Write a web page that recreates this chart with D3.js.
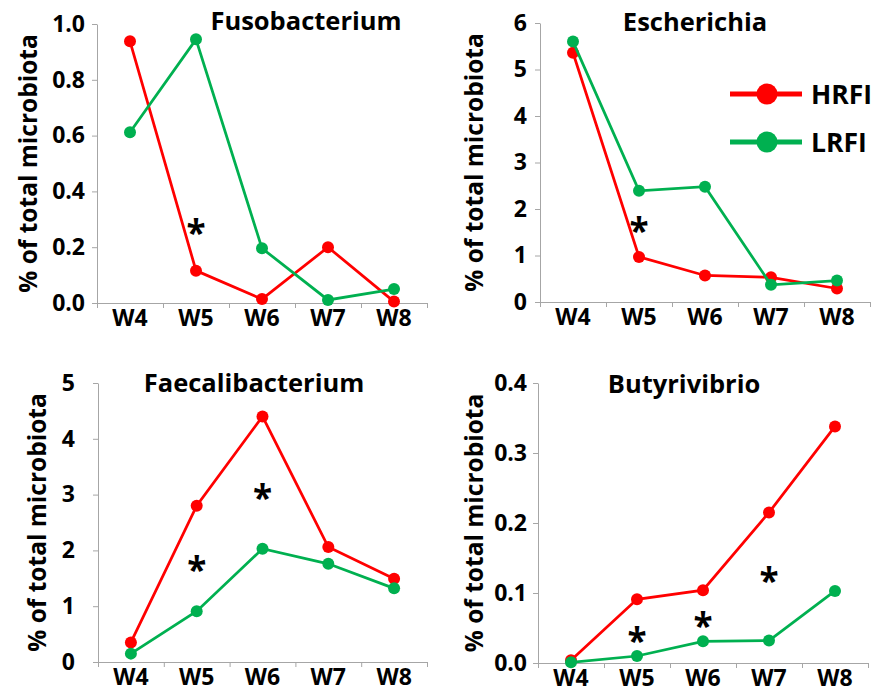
<!DOCTYPE html>
<html>
<head>
<meta charset="utf-8">
<script src="https://cdn.jsdelivr.net/npm/d3@7"></script>
<style>
  body { margin: 0; background: #fff; }
  svg { display: block; font-family: "Open Sans", Lato, sans-serif; font-weight: 700; }
</style>
</head>
<body>
<div id="chart"></div>
<script>
// weeks and groups
const weeks = ['W4', 'W5', 'W6', 'W7', 'W8'];
const groups = ['HRFI', 'LRFI'];

// % of total microbiota
const fusoHRFI = [0.938, 0.116, 0.014, 0.200, 0.005];
const fusoLRFI = [0.612, 0.945, 0.196, 0.011, 0.050];
const escHRFI = [5.36, 0.97, 0.57, 0.53, 0.29];
const escLRFI = [5.60, 2.39, 2.48, 0.37, 0.46];
const faeHRFI = [0.35, 2.80, 4.40, 2.06, 1.49];
const faeLRFI = [0.15, 0.91, 2.03, 1.76, 1.32];
const butHRFI = [0.004, 0.091, 0.104, 0.215, 0.338];
const butLRFI = [0.001, 0.010, 0.031, 0.032, 0.103];

// significance stars: week + height on the y scale
const fusoStars = [{ week: 'W5', y: 0.28 }];
const escStars = [{ week: 'W5', y: 1.7 }];
const faeStars = [{ week: 'W5', y: 1.79 }, { week: 'W6', y: 3.08 }];
const butStars = [{ week: 'W5', y: 0.043 }, { week: 'W6', y: 0.065 }, { week: 'W7', y: 0.128 }];

// y ticks
const fusoTicks = [0, 0.2, 0.4, 0.6, 0.8, 1.0];
const escTicks = [0, 1, 2, 3, 4, 5, 6];
const faeTicks = [0, 1, 2, 3, 4, 5];
const butTicks = [0, 0.1, 0.2, 0.3, 0.4];

const colors = { HRFI: '#ff0000', LRFI: '#00b050' };

const panels = [
  { title: 'Fusobacterium', data: [fusoHRFI, fusoLRFI], stars: fusoStars, ticks: fusoTicks, fmt: '.1f',
    left: 97, right: 427, top: 24, bottom: 303, labelX: 37, pad: 7, titleX: 306, titleY: 30 },
  { title: 'Escherichia', data: [escHRFI, escLRFI], stars: escStars, ticks: escTicks, fmt: 'd',
    left: 540, right: 870, top: 23, bottom: 302, labelX: 483, pad: 8, titleX: 695, titleY: 31 },
  { title: 'Faecalibacterium', data: [faeHRFI, faeLRFI], stars: faeStars, ticks: faeTicks, fmt: 'd',
    left: 98, right: 427, top: 383, bottom: 662, labelX: 46, pad: 18, titleX: 254, titleY: 392 },
  { title: 'Butyrivibrio', data: [butHRFI, butLRFI], stars: butStars, ticks: butTicks, fmt: '.1f',
    left: 538, right: 868, top: 383, bottom: 663, labelX: 483, pad: 6, titleX: 684, titleY: 393 },
];

const svg = d3.select('#chart').append('svg')
  .attr('width', 875)
  .attr('height', 692);

const axisColor = '#a6a6a6';
const fontFam = '"Open Sans", Lato, sans-serif';

panels.forEach(p => {
  const g = svg.append('g');

  const x = d3.scaleBand().domain(weeks).range([p.left, p.right]);
  const y = d3.scaleLinear()
    .domain([p.ticks[0], p.ticks[p.ticks.length - 1]])
    .range([p.bottom, p.top]);

  // y axis
  const yAxis = g.append('g')
    .attr('transform', `translate(${p.left},0)`)
    .call(d3.axisLeft(y).tickValues(p.ticks).tickFormat(d3.format(p.fmt))
      .tickSize(5).tickSizeOuter(0).tickPadding(p.pad));
  yAxis.select('.domain').attr('stroke', axisColor);
  yAxis.selectAll('.tick line').attr('stroke', axisColor);
  yAxis.selectAll('.tick text')
    .attr('fill', '#000')
    .style('font-size', '23px')
    .style('font-family', fontFam)
    .style('font-weight', 700);

  // x axis: boundary ticks + week labels
  const bounds = d3.scaleLinear().domain([0, weeks.length]).range([p.left, p.right]);
  const xTicks = g.append('g')
    .attr('transform', `translate(0,${p.bottom})`)
    .call(d3.axisBottom(bounds).ticks(weeks.length).tickFormat('').tickSize(5).tickSizeOuter(0));
  xTicks.select('.domain').attr('stroke', axisColor);
  xTicks.selectAll('.tick line').attr('stroke', axisColor);

  const xAxis = g.append('g')
    .attr('transform', `translate(0,${p.bottom})`)
    .call(d3.axisBottom(x).tickSize(0).tickPadding(7));
  xAxis.select('.domain').remove();
  xAxis.selectAll('.tick text')
    .attr('fill', '#000')
    .style('font-size', '23px')
    .style('font-family', fontFam)
    .style('font-weight', 700);

  // y label
  g.append('text')
    .attr('transform', `translate(${p.labelX},${(p.top + p.bottom) / 2}) rotate(-90)`)
    .attr('text-anchor', 'middle')
    .style('font-size', '24.5px')
    .text('% of total microbiota');

  // title
  g.append('text')
    .attr('x', p.titleX)
    .attr('y', p.titleY)
    .attr('text-anchor', 'middle')
    .style('font-size', '25.5px')
    .text(p.title);

  // lines + markers
  const line = d3.line()
    .x((d, i) => x(weeks[i]) + x.bandwidth() / 2)
    .y(d => y(d));

  groups.forEach((grp, k) => {
    const vals = p.data[k];
    g.append('path')
      .datum(vals)
      .attr('fill', 'none')
      .attr('stroke', colors[grp])
      .attr('stroke-width', 2.75)
      .attr('d', line);
    g.selectAll(null)
      .data(vals)
      .enter().append('circle')
      .attr('cx', (d, i) => x(weeks[i]) + x.bandwidth() / 2)
      .attr('cy', d => y(d))
      .attr('r', 6)
      .attr('fill', colors[grp]);
  });

  // stars
  g.selectAll(null)
    .data(p.stars)
    .enter().append('text')
    .attr('x', d => x(d.week) + x.bandwidth() / 2)
    .attr('y', d => y(d.y) + 20)
    .attr('text-anchor', 'middle')
    .style('font-size', '35px')
    .text('*');
});

// legend
const legend = svg.append('g');
groups.forEach((grp, i) => {
  const ly = 94 + i * 48;
  legend.append('line')
    .attr('x1', 730).attr('x2', 802)
    .attr('y1', ly).attr('y2', ly)
    .attr('stroke', colors[grp])
    .attr('stroke-width', 5);
  legend.append('circle')
    .attr('cx', 767).attr('cy', ly)
    .attr('r', 10.5)
    .attr('fill', colors[grp]);
  legend.append('text')
    .attr('x', 811).attr('y', ly + 10)
    .style('font-size', '26.5px')
    .text(grp);
});
</script>
</body>
</html>
